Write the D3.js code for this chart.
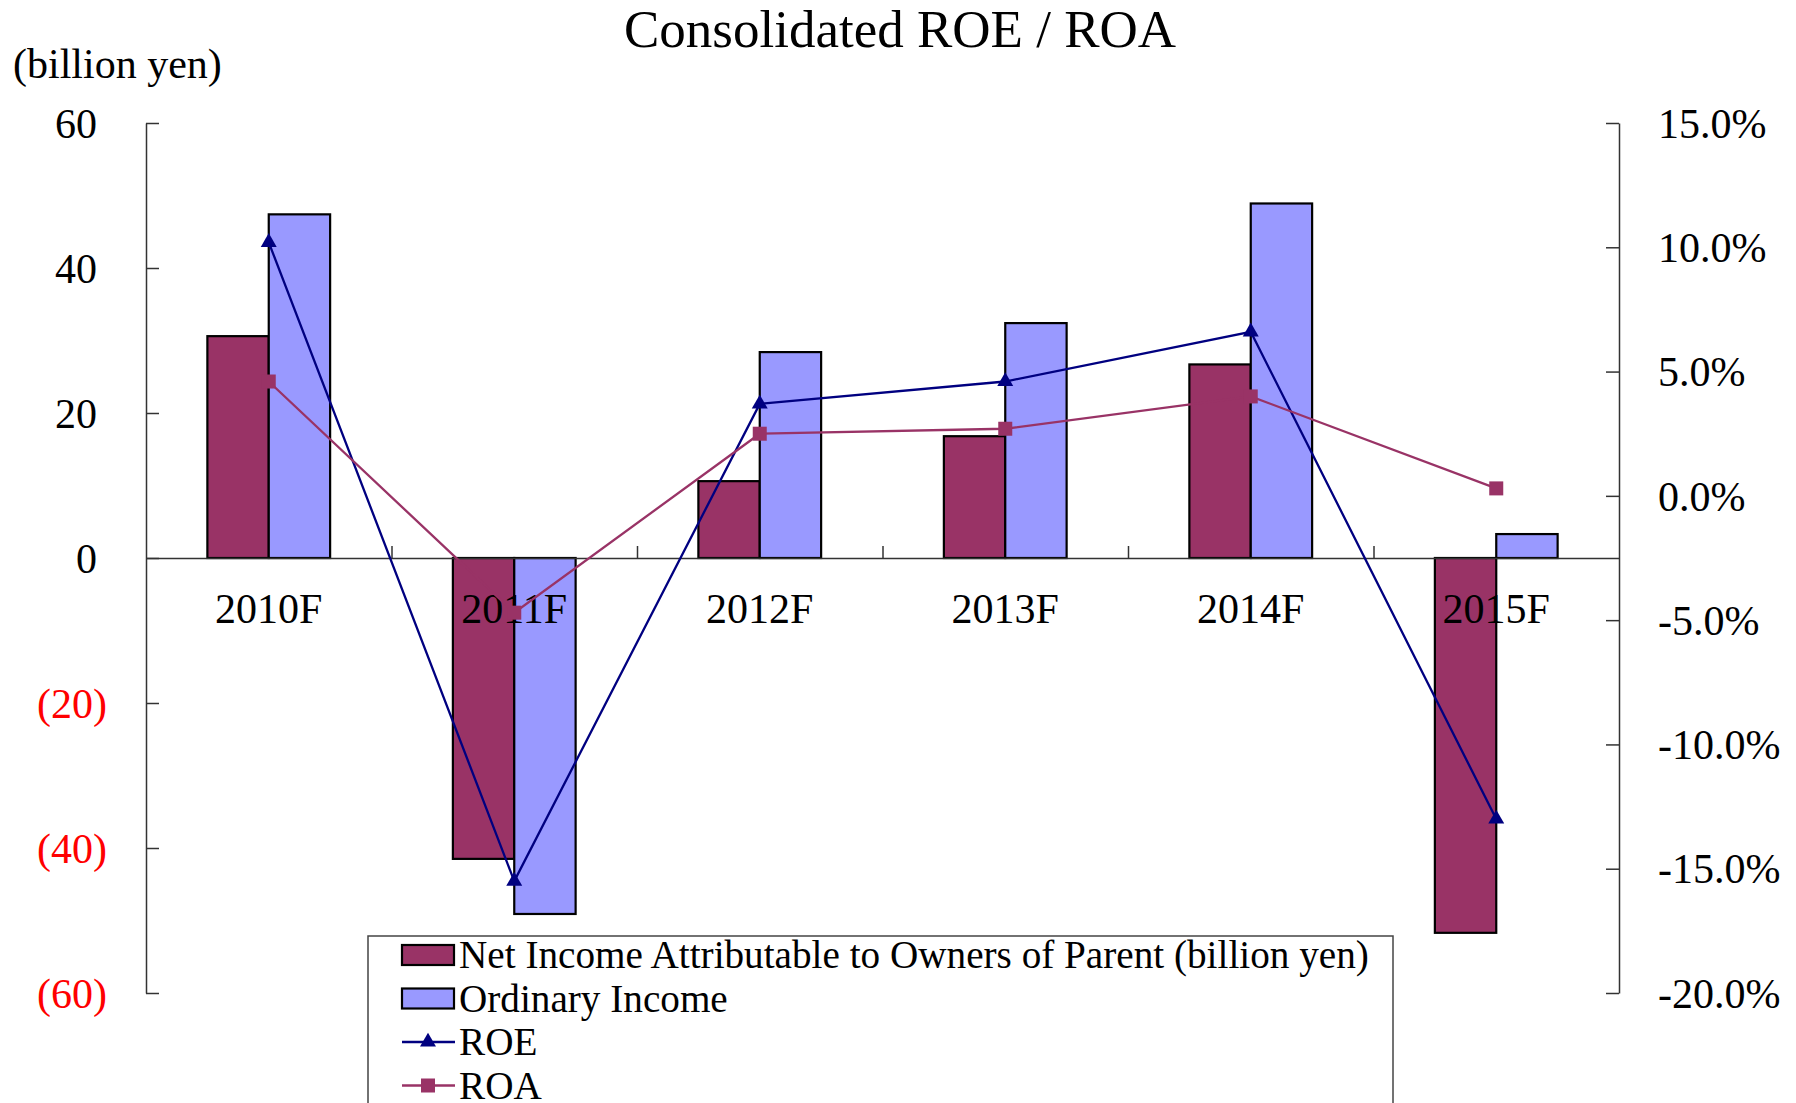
<!DOCTYPE html>
<html>
<head>
<meta charset="utf-8">
<script src="https://cdn.jsdelivr.net/npm/d3@7"></script>
<style>
  body { margin: 0; background: #fff; }
  svg { display: block; font-family: "Times New Roman", "Liberation Serif", serif; }
</style>
</head>
<body>
<svg id="svg"></svg>
<script>
// values
const categories = ["2010F", "2011F", "2012F", "2013F", "2014F", "2015F"]
const netIncome = [30.6, -41.5, 10.6, 16.8, 26.7, -51.7]
const ordinaryIncome = [47.4, -49.1, 28.4, 32.4, 48.9, 3.3]
const roe = [0.102, -0.155, 0.037, 0.046, 0.066, -0.130]
const roa = [0.046, -0.047, 0.025, 0.027, 0.040, 0.003]
const leftTicks = [60, 40, 20, 0, -20, -40, -60]
const rightTicks = [0.15, 0.10, 0.05, 0, -0.05, -0.10, -0.15, -0.20]

const width = 1796, height = 1103
const plot = {left: 146, right: 1619, top: 123, bottom: 993}
const maroon = "#993366", lilac = "#9999FF", navy = "#000080"

const pct = d3.formatLocale({decimal: ".", thousands: ",", grouping: [3], currency: ["", ""], minus: "-"}).format(".1%")

const svg = d3.select("#svg").attr("width", width).attr("height", height)

const x = d3.scaleBand().domain(categories).range([plot.left, plot.right])
const bw = x.bandwidth()
const x1 = d3.scaleBand().domain(["net", "ord"]).range([bw / 4, bw * 3 / 4])
const yL = d3.scaleLinear().domain([-60, 60]).range([plot.bottom, plot.top])
const yR = d3.scaleLinear().domain([-0.20, 0.15]).range([plot.bottom, plot.top])

// title + unit
svg.append("text").attr("x", 900).attr("y", 47).attr("text-anchor", "middle")
  .attr("font-size", 53).text("Consolidated ROE / ROA")
svg.append("text").attr("x", 13).attr("y", 78).attr("font-size", 42).text("(billion yen)")

// bars
const rows = categories.map((c, i) => ({c, net: netIncome[i], ord: ordinaryIncome[i]}))
const bars = svg.append("g")
bars.selectAll("g").data(rows).join("g")
  .attr("transform", d => `translate(${x(d.c)},0)`)
  .selectAll("rect")
  .data(d => [{k: "net", v: d.net}, {k: "ord", v: d.ord}])
  .join("rect")
    .attr("x", d => x1(d.k))
    .attr("width", x1.bandwidth())
    .attr("y", d => yL(Math.max(0, d.v)))
    .attr("height", d => Math.abs(yL(d.v) - yL(0)))
    .attr("fill", d => d.k == "net" ? maroon : lilac)
    .attr("stroke", "#000").attr("stroke-width", 2.2)

// axes
const axisColor = "#333"
const gL = svg.append("g").attr("transform", `translate(${plot.left},0)`)
  .call(d3.axisLeft(yL).tickValues(leftTicks).tickSizeInner(-13).tickSizeOuter(0).tickPadding(39)
    .tickFormat(v => v < 0 ? `(${-v})` : v))
  .attr("font-family", null).attr("font-size", 42)
gL.selectAll("text")
  .attr("fill", v => v < 0 ? "#FF0000" : "#000")
  .attr("dx", v => v < 0 ? 0 : -10).attr("dy", "0.34em")

const gR = svg.append("g").attr("transform", `translate(${plot.right},0)`)
  .call(d3.axisRight(yR).tickValues(rightTicks).tickSizeInner(-13).tickSizeOuter(0).tickPadding(39)
    .tickFormat(pct))
  .attr("font-family", null).attr("font-size", 42)
gR.selectAll("text").attr("fill", "#000").attr("dy", "0.34em")

const xi = d3.scaleLinear().domain([0, categories.length]).range([plot.left, plot.right])
const gX = svg.append("g").attr("transform", `translate(0,${yL(0)})`)
  .call(d3.axisTop(xi).ticks(categories.length).tickSizeInner(12).tickSizeOuter(0).tickFormat(""))
gX.selectAll(".tick").filter(d => d == 0 || d == categories.length).remove()

svg.selectAll(".domain, .tick line").attr("stroke", axisColor).attr("stroke-width", 1.5)

svg.append("g").selectAll("text").data(categories).join("text")
  .attr("x", d => x(d) + bw / 2).attr("y", 623)
  .attr("text-anchor", "middle").attr("font-size", 42).text(d => d)

// lines
const cx = i => x(categories[i]) + bw / 2
const line = d3.line().x((d, i) => cx(i)).y(d => yR(d))
const tri = d3.symbol().type(d3.symbolTriangle).size(110)

svg.append("path").datum(roe).attr("d", line).attr("fill", "none").attr("stroke", navy).attr("stroke-width", 2.3)
svg.append("g").selectAll("path").data(roe).join("path")
  .attr("transform", (d, i) => `translate(${cx(i)},${yR(d)})`).attr("d", tri).attr("fill", navy)

svg.append("path").datum(roa).attr("d", line).attr("fill", "none").attr("stroke", maroon).attr("stroke-width", 2.3)
svg.append("g").selectAll("rect").data(roa).join("rect")
  .attr("x", (d, i) => cx(i) - 7).attr("y", d => yR(d) - 7)
  .attr("width", 14).attr("height", 14).attr("fill", maroon)

// legend (cut by the bottom edge, as in the source picture)
const leg = svg.append("g")
leg.append("rect").attr("x", 368).attr("y", 936).attr("width", 1025).attr("height", 200)
  .attr("fill", "#fff").attr("stroke", "#444").attr("stroke-width", 1.5)
const items = [
  {name: "Net Income Attributable to Owners of Parent (billion yen)", type: "bar", color: maroon},
  {name: "Ordinary Income", type: "bar", color: lilac},
  {name: "ROE", type: "tri", color: navy},
  {name: "ROA", type: "sq", color: maroon}
]
const it = leg.selectAll("g.item").data(items).join("g")
  .attr("transform", (d, i) => `translate(0,${955 + i * 43.5})`)
it.filter(d => d.type == "bar").append("rect")
  .attr("x", 402).attr("y", -10).attr("width", 52).attr("height", 20)
  .attr("fill", d => d.color).attr("stroke", "#000").attr("stroke-width", 2.2)
it.filter(d => d.type != "bar").append("line")
  .attr("x1", 402).attr("x2", 455).attr("stroke", d => d.color).attr("stroke-width", 2.5)
it.filter(d => d.type == "tri").append("path")
  .attr("transform", "translate(428,0)").attr("d", tri).attr("fill", d => d.color)
it.filter(d => d.type == "sq").append("rect")
  .attr("x", 421).attr("y", -7).attr("width", 14).attr("height", 14).attr("fill", d => d.color)
it.append("text").attr("x", 459).attr("y", 13).attr("font-size", 39.2).text(d => d.name)
</script>
</body>
</html>
